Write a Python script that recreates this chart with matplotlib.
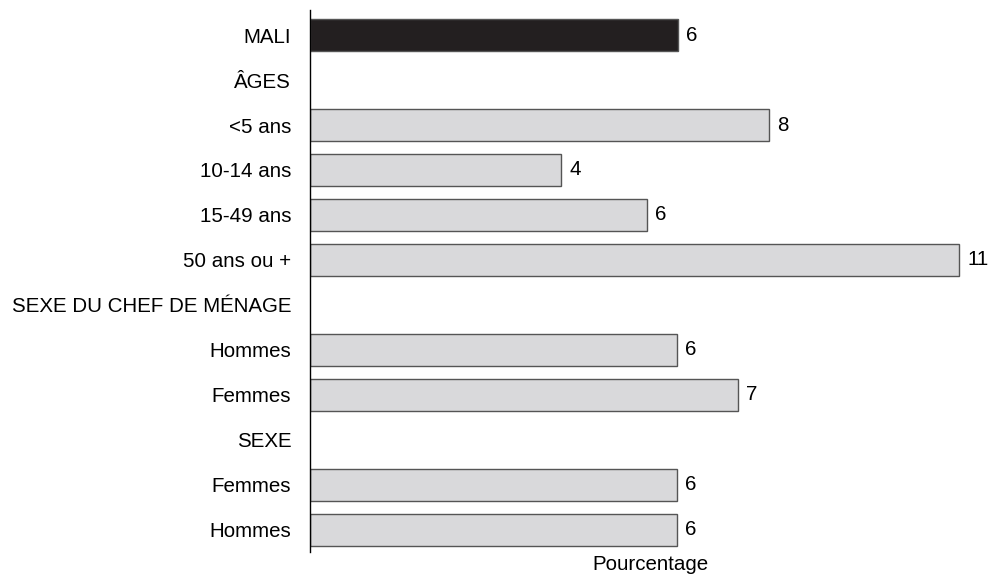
import matplotlib.pyplot as plt

plt.rcParams["font.family"] = ["Liberation Sans", "DejaVu Sans"]

categories = ["MALI", "ÂGES", "<5 ans", "10-14 ans", "15-49 ans", "50 ans ou +",
              "SEXE DU CHEF DE MÉNAGE", "Hommes", "Femmes", "SEXE", "Femmes", "Hommes"]
# None = section header, no bar
values = [6.23, None, 7.78, 4.25, 5.71, 11.0, None, 6.22, 7.25, None, 6.22, 6.22]
value_labels = ["6", "", "8", "4", "6", "11", "", "6", "7", "", "6", "6"]

fig = plt.figure(figsize=(9.88, 5.76), dpi=100)
ax = fig.add_axes([310 / 988, 1 - 552 / 576, 680 / 988, 542 / 576])

for i, (v, lab) in enumerate(zip(values, value_labels)):
    if v is None:
        continue
    color = "#231f20" if i == 0 else "#d9d9db"
    ax.barh(i, v, height=0.71, color=color, edgecolor="#555555", linewidth=1.0)
    ax.text(v + 0.14, i, lab, va="center", ha="left", fontsize=14.8)

ax.set_yticks(range(len(categories)))
ax.set_yticklabels(categories, fontsize=14.8)
ax.tick_params(axis="y", length=0, pad=13.5)
ax.set_xticks([])
ax.set_xlim(0, 680 / 59)
ax.set_ylim(11.49, -0.556)
for side in ["top", "right", "bottom"]:
    ax.spines[side].set_visible(False)
ax.spines["left"].set_linewidth(1.0)
ax.set_xlabel("Pourcentage", fontsize=14.8, labelpad=2)

fig.savefig("out.png", dpi=100)
